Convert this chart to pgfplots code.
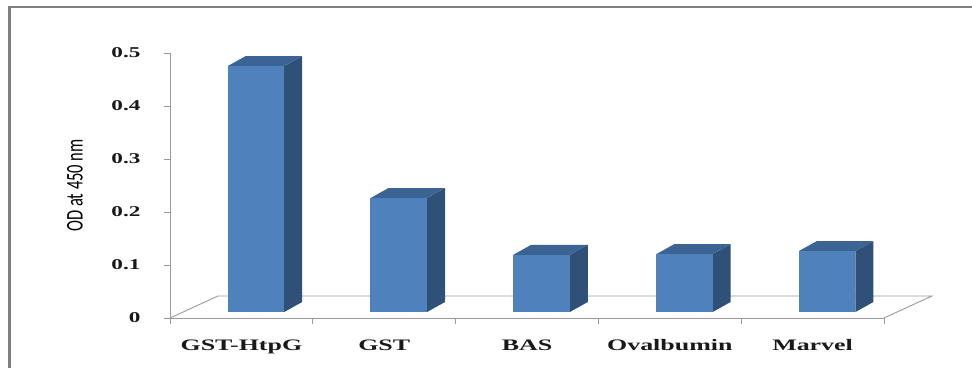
\documentclass[border=0pt]{standalone}
\usepackage{fontspec}
\usepackage{pgfplots}
\usepackage{pgfplotstable}
\pgfplotsset{compat=1.18}
\setmainfont{Liberation Serif}
\newfontfamily\tickfont{Liberation Serif}[FakeStretch=1.55]
\newfontfamily\catfont{Liberation Serif}[FakeStretch=1.62]
\newfontfamily\labfont{Carlito}

\definecolor{barfront}{HTML}{4F81BD}
\definecolor{bartop}{HTML}{3B6393}
\definecolor{barside}{HTML}{2F5077}
\definecolor{floorgray}{HTML}{9A9A9A}
\definecolor{framegray}{HTML}{7F7F7F}

% OD readings at 450 nm
\pgfplotstableread{
idx value
0 0.464
1 0.215
2 0.108
3 0.109
4 0.115
}\odtable

% bar geometry in axis units
\def\barbase{0.0113}  % front bottom edge above the floor front
\def\barhalf{0.198}   % half width of the front face
\def\baroff{0.102}    % x offset of the front face centre
\def\depthx{0.126}    % oblique depth, x part
\def\depthy{0.0189}   % oblique depth, y part

\newcommand\drawbar[1]{%
  \pgfplotstablegetelem{#1}{value}\of\odtable
  \pgfmathsetmacro\vtop{\pgfplotsretval+\barbase}%
  \pgfmathsetmacro\xl{#1+\baroff-\barhalf}%
  \pgfmathsetmacro\xr{#1+\baroff+\barhalf}%
  \pgfmathsetmacro\xlb{\xl+\depthx}%
  \pgfmathsetmacro\xrb{\xr+\depthx}%
  \pgfmathsetmacro\vb{\vtop+\depthy}%
  \pgfmathsetmacro\bb{\barbase+\depthy}%
  \edef\next{%
    \noexpand\addplot[draw=none, fill=barside] coordinates {(\xr,\barbase) (\xrb,\bb) (\xrb,\vb) (\xr,\vtop)} -- cycle;
    \noexpand\addplot[draw=none, fill=bartop] coordinates {(\xl,\vtop) (\xlb,\vb) (\xrb,\vb) (\xr,\vtop)} -- cycle;
    \noexpand\addplot[draw=none, fill=barfront] coordinates {(\xl,\barbase) (\xr,\barbase) (\xr,\vtop) (\xl,\vtop)} -- cycle;
  }\next
}

\begin{document}
\begin{tikzpicture}[x=1pt,y=1pt]
\useasboundingbox (0,0) rectangle (972,368);
% frame
\draw[framegray, line width=2.5pt] (9.5,0) -- (9.5,361) -- (972,361);

\begin{axis}[
  at={(170pt,50pt)}, anchor=south west,
  scale only axis, width=714pt, height=265pt,
  xmin=-0.5, xmax=4.5, ymin=0, ymax=0.5,
  clip=false,
  axis x line*=bottom, axis y line*=left,
  axis line style={floorgray, line width=0.9pt},
  tick style={floorgray, line width=0.9pt},
  tick align=outside,
  major tick length=6pt,
  xtick={0,1,2,3,4},
  xticklabels={GST-HtpG,GST,BAS,Ovalbumin,Marvel},
  xtick style={draw=none},
  xticklabel style={font=\fontsize{16}{16}\catfont\bfseries, text=black!90, yshift=-12pt},
  extra x ticks={-0.5,0.5,1.5,2.5,3.5,4.5},
  extra x tick labels={},
  extra x tick style={xtick style={draw=floorgray, line width=0.9pt}},
  ytick={0,0.1,0.2,0.3,0.4,0.5},
  yticklabels={0,0.1,0.2,0.3,0.4,0.5},
  yticklabel style={font=\fontsize{15}{15}\tickfont\bfseries, text=black!90, xshift=-20pt},
  ylabel={\scalebox{1}[1.45]{\fontsize{16.5}{16.5}\labfont OD at 450 nm}},
  every axis y label/.style={at={(axis description cs:-0.133,0.5)}, rotate=90,
    anchor=center},
]
% floor of the plot area
\draw[floorgray, line width=0.9pt]
  (axis cs:-0.5,0) -- (axis cs:-0.164,0.0415) -- (axis cs:4.836,0.0415) -- (axis cs:4.5,0);
\pgfplotsinvokeforeach{0,1,2,3,4}{\drawbar{#1}}
\end{axis}
\end{tikzpicture}
\end{document}
